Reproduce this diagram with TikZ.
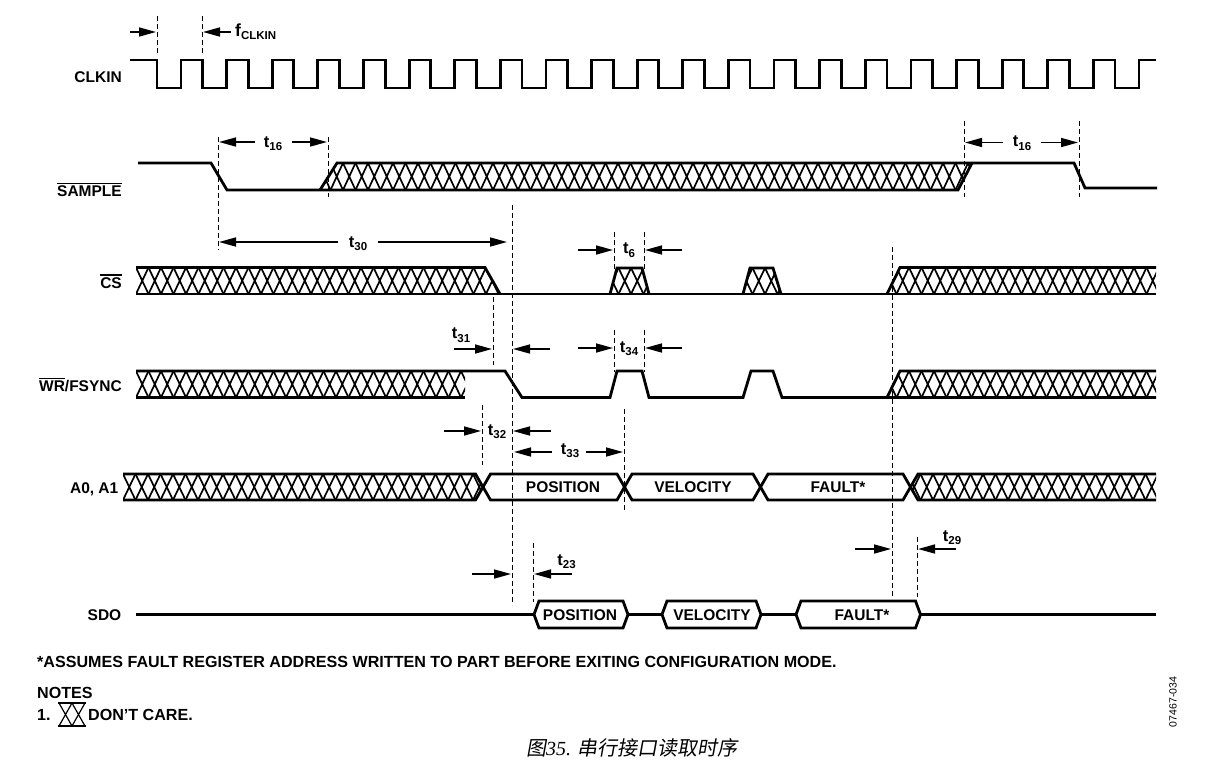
\documentclass[tikz,border=0pt]{standalone}
\usepackage{fontspec}
\setmainfont{Liberation Sans}
\newfontfamily\cjkfont[FakeSlant=0.18]{Noto Sans CJK SC}
\newfontfamily\serfont{Liberation Serif}
\usetikzlibrary{arrows.meta}
\tikzset{
  sig/.style={line width=2.8pt, line join=miter, line cap=butt},
  hl/.style={line width=1.7pt},
  dsh/.style={line width=0.9pt, dash pattern=on 5pt off 3pt},
  dim/.style={line width=1.6pt, -{Triangle[length=17pt,width=9pt]}},
  lbl/.style={font=\fontsize{15.5}{16}\selectfont\bfseries, inner sep=0pt, text height=11.1pt, text depth=0pt},
  tl/.style={font=\fontsize{16.5}{17}\selectfont\bfseries, inner sep=0pt, text height=12pt, text depth=0pt},
  note/.style={font=\fontsize{16.1}{17}\selectfont\bfseries, inner sep=0pt, text height=11.5pt, text depth=0pt, anchor=west},
}
\newcommand\tsb[2]{#1\raisebox{-3.5pt}{\fontsize{11.5}{12}\selectfont #2}}
\newcommand\ovl[1]{\vbox{\hrule height 1.5pt\kern 1.6pt\hbox{#1}}}
\newcommand\dchatch[5]{%
  \begin{scope}
    \clip #1;
    \pgfmathtruncatemacro\hn{ceil((#3-#2)/12.5)}
    \foreach \hi in {0,...,\hn}{
      \draw[hl] ({#2+\hi*12.5},#4) -- ({#2+(\hi+1)*12.5},#5)
                ({#2+\hi*12.5},#5) -- ({#2+(\hi+1)*12.5},#4);
    }
  \end{scope}}
\begin{document}
\begin{tikzpicture}[x=1pt,y=-1pt]
\useasboundingbox (0,0) rectangle (1222,769);

% ---------- labels ----------
\node[lbl, anchor=east] (lclk) at (122,77) {CLKIN};
\node[lbl, anchor=east] (lsmp) at (122,191) {\ovl{SAMPLE}};
\node[lbl, anchor=east] (lcs)  at (122,282.5) {\ovl{CS}};
\node[lbl, anchor=east] (lwr)  at (122,386) {\ovl{WR}/FSYNC};
\node[lbl, anchor=east] (la0)  at (118.5,487.5) {A0, A1};
\node[lbl, anchor=east] (lsdo) at (121.5,615) {SDO};

% ---------- CLKIN ----------
\draw[sig] (130,60) \foreach \k in {0,...,21}{ -- ({157+\k*45.62},60) -- ({157+\k*45.62},88) -- ({181+\k*45.62},88) -- ({181+\k*45.62},60)} -- (1156,60);
\draw[dsh] (157,16) -- (157,55);
\draw[dsh] (202,16) -- (202,55);
\draw[dim] (130,32) -- (156,32);
\draw[dim] (231,32) -- (203,32);
\node[inner sep=0pt, anchor=west, font=\fontsize{17.5}{18}\selectfont\bfseries, text height=12.6pt, text depth=0pt] (fclk) at (235,30) {f\raisebox{-3pt}{\fontsize{11.5}{12}\selectfont CLKIN}};

% ---------- SAMPLE ----------
\dchatch{(320,190)--(337,163)--(972,163)--(958,190)--cycle}{318}{975}{163}{190}
\draw[sig] (138,163) -- (211,163) -- (227,190) -- (958,190) -- (972,163);
\draw[sig] (320,190) -- (337,163) -- (1074,163) -- (1085,188) -- (1157,188);
\draw[dsh] (218,137) -- (218,250);
\draw[dsh] (328,137) -- (328,197);
\draw[dsh] (964,121) -- (964,197);
\draw[dsh] (1079,121) -- (1079,197);
\node[tl] (t16a) at (273,141) {\tsb{t}{16}};
\draw[dim] (255,142) -- (219,142);
\draw[dim] (292,142) -- (327,142);
\node[tl] (t16b) at (1022,140.5) {\tsb{t}{16}};
\draw[dim] (1003,142.5) -- (965,142.5);
\draw[dim] (1041,142.5) -- (1078,142.5);

% ---------- CS ----------
\dchatch{(136,267.5)--(485,267.5)--(500,294)--(136,294)--cycle}{136}{502}{267.5}{294}
\dchatch{(610,294)--(617,268)--(642,268)--(649,294)--cycle}{606}{652}{268}{294}
\dchatch{(743,294)--(750,268)--(773,268)--(781,294)--cycle}{740}{784}{268}{294}
\dchatch{(887,294)--(900,267.5)--(1156,267.5)--(1156,294)--cycle}{884}{1160}{267.5}{294}
\draw[sig] (136,294) -- (1156,294);
\draw[sig] (136,267.5) -- (485,267.5) -- (500,294);
\draw[sig] (610,294) -- (617,268) -- (642,268) -- (649,294);
\draw[sig] (743,294) -- (750,268) -- (773,268) -- (781,294);
\draw[sig] (887,294) -- (900,267.5) -- (1156,267.5);
\node[tl] (t30) at (358,241) {\tsb{t}{30}};
\draw[dim] (338,242) -- (219,242);
\draw[dim] (378,242) -- (507,242);
\draw[dsh] (614,232) -- (614,270);
\draw[dsh] (644,232) -- (644,270);
\node[tl] (t6) at (629,247.5) {\tsb{t}{6}};
\draw[dim] (578,250) -- (613,250);
\draw[dim] (682,250) -- (645,250);

% ---------- long dashed lines ----------
\draw[dsh] (512,205) -- (512,605);
\draw[dsh] (892,247) -- (892,597);

% ---------- WR/FSYNC ----------
\dchatch{(136,371)--(465,371)--(465,397.5)--(136,397.5)--cycle}{136}{470}{371}{397.5}
\dchatch{(887,397.5)--(900,371)--(1156,371)--(1156,397.5)--cycle}{884}{1160}{371}{397.5}
\draw[sig] (136,371) -- (505,371) -- (522,397.5) -- (610,397.5) -- (617,371) -- (642,371) -- (649,397.5) -- (743,397.5) -- (751,371) -- (773,371) -- (782,397.5) -- (1156,397.5);
\draw[sig] (136,397.5) -- (465,397.5);
\draw[sig] (887,397.5) -- (900,371) -- (1156,371);
\draw[dsh] (493,297) -- (493,365);
\node[tl] (t31) at (461,332.5) {\tsb{t}{31}};
\draw[dim] (454,349) -- (492,349);
\draw[dim] (550,349) -- (513,349);
\draw[dsh] (614,330) -- (614,372);
\draw[dsh] (644,330) -- (644,372);
\node[tl] (t34) at (629,346) {\tsb{t}{34}};
\draw[dim] (578,348) -- (613,348);
\draw[dim] (682,348) -- (645,348);

% ---------- A0, A1 ----------
\dchatch{(123,474)--(475.5,474)--(483,487)--(475.5,500)--(123,500)--cycle}{123}{485}{474}{500}
\dchatch{(910.5,487)--(918,474)--(1156,474)--(1156,500)--(918,500)--cycle}{908}{1160}{474}{500}
\draw[sig] (123,474) -- (475.5,474) -- (483,487) -- (475.5,500) -- (123,500);
\draw[sig] (483,487) -- (490.5,474) -- (617,474) -- (624.5,487) -- (617,500) -- (490.5,500) -- cycle;
\draw[sig] (624.5,487) -- (632,474) -- (753,474) -- (760.5,487) -- (753,500) -- (632,500) -- cycle;
\draw[sig] (760.5,487) -- (768,474) -- (903,474) -- (910.5,487) -- (903,500) -- (768,500) -- cycle;
\draw[sig] (1156,474) -- (918,474) -- (910.5,487) -- (918,500) -- (1156,500);
\node[lbl] (apos) at (563,487) {POSITION};
\node[lbl] (avel) at (693,487) {VELOCITY};
\node[lbl] (afault) at (838,487) {FAULT*};
\draw[dsh] (482,405) -- (482,465);
\node[tl] (t32) at (497,429) {\tsb{t}{32}};
\draw[dim] (444,431) -- (481,431);
\draw[dim] (551,431) -- (513,431);
\draw[dsh] (624,409) -- (624,510);
\node[tl] (t33) at (570,448) {\tsb{t}{33}};
\draw[dim] (552,452) -- (514,452);
\draw[dim] (586,452) -- (623,452);

% ---------- SDO ----------
\draw[sig] (136,614.5) -- (534,614.5);
\draw[sig] (534,614.5) -- (539,601) -- (623,601) -- (628,614.5) -- (623,628) -- (539,628) -- cycle;
\draw[sig] (628,614.5) -- (662,614.5);
\draw[sig] (662,614.5) -- (667,601) -- (756,601) -- (761,614.5) -- (756,628) -- (667,628) -- cycle;
\draw[sig] (761,614.5) -- (796,614.5);
\draw[sig] (796,614.5) -- (801,601) -- (915.5,601) -- (920.5,614.5) -- (915.5,628) -- (801,628) -- cycle;
\draw[sig] (920.5,614.5) -- (1156,614.5);
\node[lbl] (spos) at (580,614.5) {POSITION};
\node[lbl] (svel) at (712,614.5) {VELOCITY};
\node[lbl] (sfault) at (862,614.5) {FAULT*};
\draw[dsh] (533,543) -- (533,602);
\node[tl] (t23) at (566.5,559) {\tsb{t}{23}};
\draw[dim] (472,574) -- (511,574);
\draw[dim] (572,574) -- (534,574);
\draw[dsh] (917,537) -- (917,597);
\node[tl] (t29) at (952,535) {\tsb{t}{29}};
\draw[dim] (855,549) -- (891,549);
\draw[dim] (956,549) -- (918,549);

% ---------- notes ----------
\node[note] (n1) at (37,661.5) {*ASSUMES FAULT REGISTER ADDRESS WRITTEN TO PART BEFORE EXITING CONFIGURATION MODE.};
\node[note] (n2) at (37,693) {NOTES};
\node[note] (n3) at (37,714.5) {1.};
\node[note] (n4) at (88,714.5) {DON’T CARE.};
\begin{scope}
  \clip (58,703) rectangle (86,726);
  \draw[line width=1.2pt] (59,703) -- (72,726) (72,703) -- (59,726) (72,703) -- (85,726) (85,703) -- (72,726);
\end{scope}
\draw[line width=1.3pt] (58,703) -- (86,703);
\draw[line width=1.8pt] (58,726) -- (86,726);

% ---------- caption & id ----------
\node[inner sep=0pt, font=\fontsize{20}{22}\selectfont] (cap) at (632,748) {\cjkfont 图\serfont\itshape 35. \cjkfont 串行接口读取时序};
\node[inner sep=0pt, rotate=90, font=\fontsize{10.5}{12}\selectfont] (fid) at (1173,702) {07467-034};
\end{tikzpicture}
\end{document}
